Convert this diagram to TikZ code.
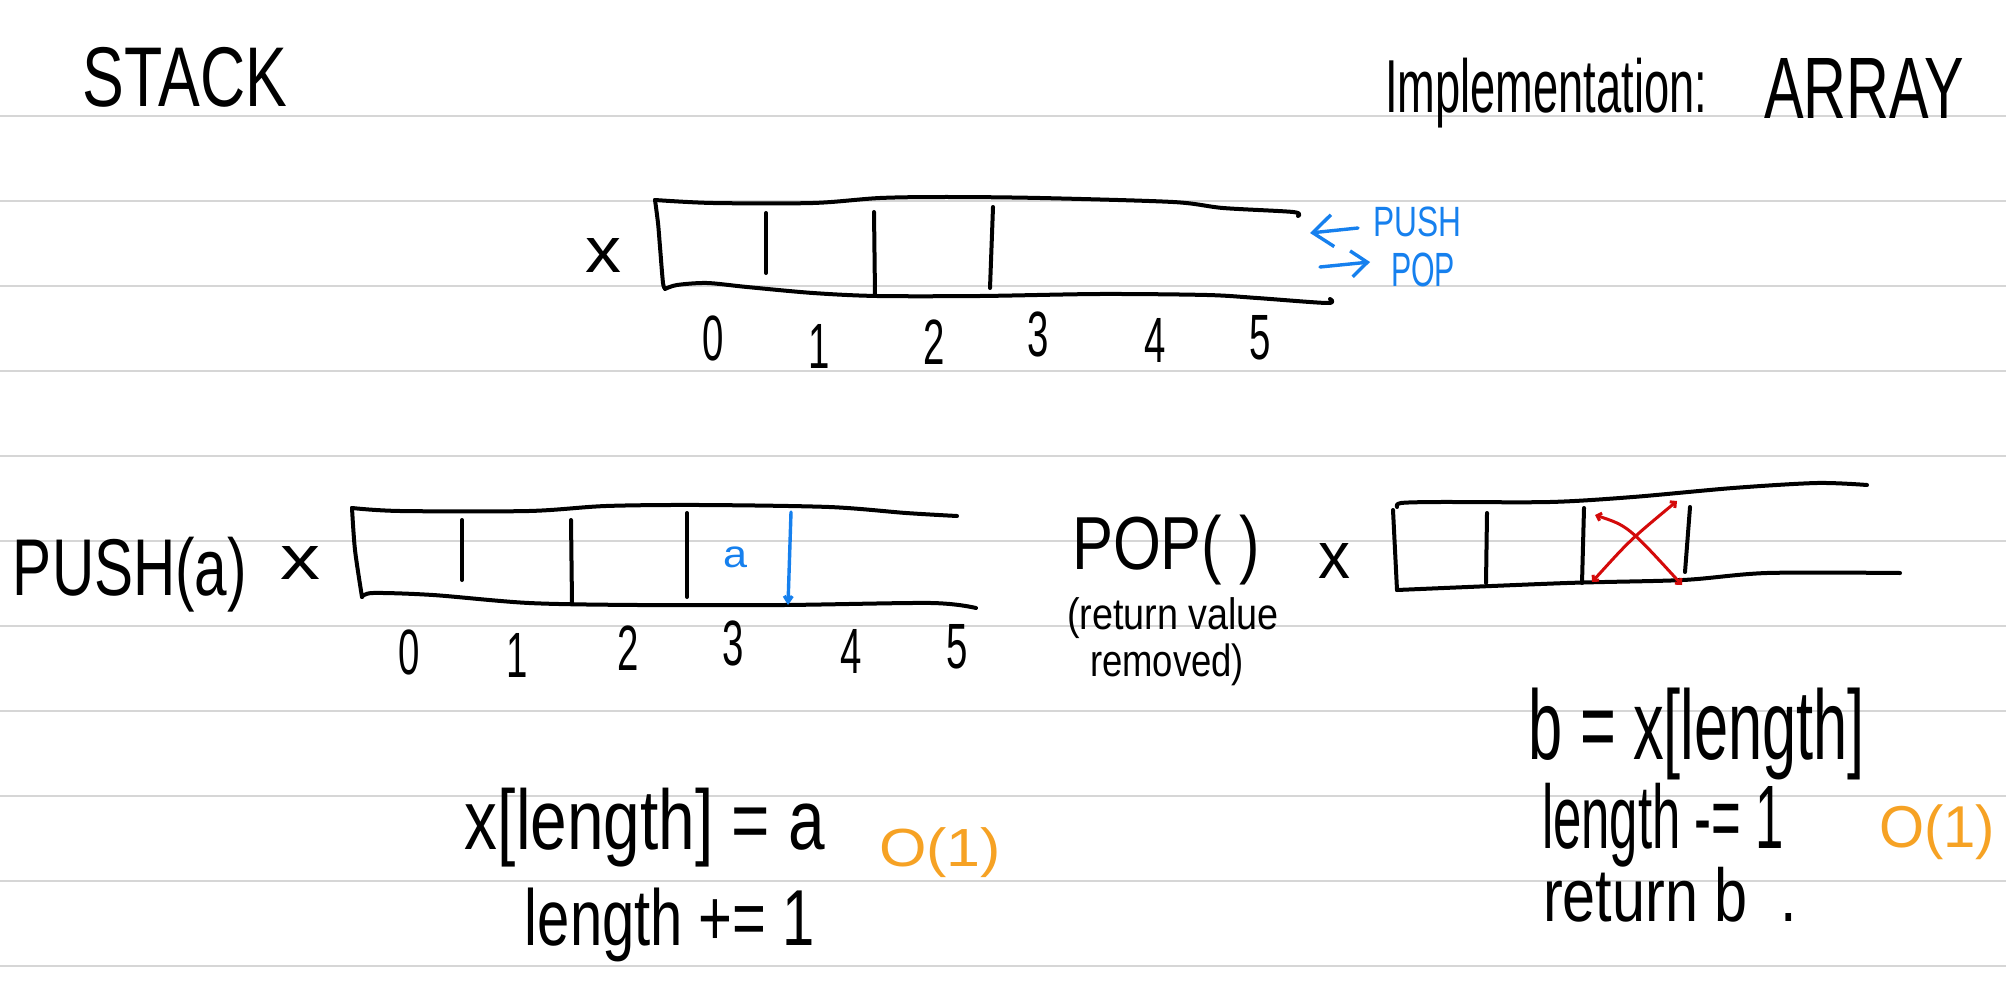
\documentclass[tikz,border=0pt]{standalone}
\usepackage{graphicx}
\usepackage{fontspec}
\setmainfont{Liberation Sans}
\usetikzlibrary{arrows.meta}
\definecolor{rulegray}{RGB}{214,214,214}
\definecolor{penblue}{RGB}{22,128,238}
\definecolor{penred}{RGB}{212,10,10}
\definecolor{penorange}{RGB}{246,162,36}
\newcommand{\hwbox}[3]{\resizebox*{#1}{#2}{#3}}
\newcommand{\hwdig}[1]{\scalebox{0.6}[1]{\fontsize{32}{32}\selectfont #1}}
\tikzset{
  rule/.style={draw=rulegray, line width=1pt},
  pen/.style={line width=2pt, line cap=round, line join=round},
  txt/.style={inner sep=0pt, outer sep=0pt},
  bluepen/.style={pen, draw=penblue, line width=1.7pt},
  redpen/.style={pen, draw=penred, line width=1.5pt},
}
\begin{document}
\begin{tikzpicture}[x=0.5pt,y=-0.5pt]
\useasboundingbox (0,0) rectangle (2006,1000);
\fill[white] (0,0) rectangle (2006,1000);
% ruled lines
\foreach \yy in {116,201,286,371,456,541,626,711,796,881,966}
  \draw[rule] (0,\yy) -- (2006,\yy);

% titles
\node[txt] (title) at (185,77) {\hwbox{102pt}{30pt}{STACK}};
\node[txt] (impl) at (1546,93) {\hwbox{161pt}{35pt}{Implementation:}};
\node[txt] (arr) at (1864,88) {\hwbox{100pt}{30pt}{ARRAY}};

% ---------- top array ----------
\node[txt] (xtop) at (603,255) {\hwbox{18pt}{17pt}{x}};
\draw[pen] plot[smooth] coordinates {(655,200) (713,203) (813,203) (880,198) (947,197) (1040,198) (1173,202) (1223,208) (1293,212) (1298,216)};
\draw[pen] plot[smooth] coordinates {(655,200) (658,223) (660,247) (663,283) (665,288)};
\draw[pen] plot[smooth] coordinates {(665,289) (677,285) (707,283) (747,287) (813,293) (877,296) (980,296) (1100,294) (1207,295) (1257,298) (1327,303) (1330,299)};
\draw[pen] (766,213) -- (766,273);
\draw[pen] (874,212) -- (875,295);
\draw[pen] (993,207) -- (990,288);
\node[txt] (t0) at (713,338) {\hwdig{0}};
\node[txt] (t1) at (819,346) {\hwdig{1}};
\node[txt] (t2) at (934,342) {\hwdig{2}};
\node[txt] (t3) at (1038,334) {\hwdig{3}};
\node[txt] (t4) at (1155,340) {\hwdig{4}};
\node[txt] (t5) at (1260,338) {\hwdig{5}};
% PUSH / POP
\node[txt, text=penblue] (push) at (1417,222) {\hwbox{44pt}{15pt}{PUSH}};
\node[txt, text=penblue] (pop) at (1423,270) {\hwbox{32pt}{17pt}{POP}};
\coordinate (pushA) at (1358,228);
\coordinate (pushB) at (1310,233);
\coordinate (popA) at (1320,267);
\coordinate (popB) at (1370,262);
\draw[bluepen, -{Straight Barb[length=10pt,width=16pt]}] (pushA) -- (pushB);
\draw[bluepen, -{Straight Barb[length=8pt,width=13pt]}] (popA) -- (popB);

% ---------- PUSH(a) ----------
\node[txt] (pushlbl) at (130,575) {\hwbox{117pt}{37.5pt}{PUSH(a)}};
\node[txt] (xpush) at (300,563) {\hwbox{20pt}{16.5pt}{x}};
\draw[pen] plot[smooth] coordinates {(352,508) (400,511) (529,511) (606,506) (700,505) (829,507) (906,513) (957,516)};
\draw[pen] plot[smooth] coordinates {(352,508) (355,550) (362,597)};
\draw[pen] plot[smooth] coordinates {(362,597) (373,593) (433,595) (529,603) (638,605) (784,605) (931,603) (976,608)};
\draw[pen] (462,520) -- (462,580);
\draw[pen] (571,520) -- (572,603);
\draw[pen] (687,513) -- (687,597);
\node[txt, text=penblue] (aval) at (735,557) {\hwbox{12pt}{10.5pt}{a}};
\coordinate (downA) at (791,512);
\coordinate (downB) at (788,605);
\draw[bluepen, -{Straight Barb[length=3pt,width=4pt]}] (downA) -- (downB);
\node[txt] (p0) at (409,652) {\hwdig{0}};
\node[txt] (p1) at (517,655) {\hwdig{1}};
\node[txt] (p2) at (628,648) {\hwdig{2}};
\node[txt] (p3) at (733,643) {\hwdig{3}};
\node[txt] (p4) at (851,651) {\hwdig{4}};
\node[txt] (p5) at (957,647) {\hwdig{5}};

% ---------- POP() ----------
\node[txt] (poplbl) at (1166,550) {\hwbox{94pt}{35pt}{POP( )}};
\node[txt] (ret1) at (1173,618) {\hwbox{106pt}{20.5pt}{(return value}};
\node[txt] (ret2) at (1167,665) {\hwbox{77pt}{21pt}{removed)}};
\node[txt] (xpop) at (1334,561) {\hwbox{16pt}{17.5pt}{x}};
\draw[pen] plot[smooth] coordinates {(1397,507) (1401,503) (1440,502) (1550,502) (1633,497) (1733,488) (1817,483) (1867,485)};
\draw[pen] plot[smooth] coordinates {(1393,510) (1395,550) (1397,590)};
\draw[pen] plot[smooth] coordinates {(1397,590) (1567,583) (1683,580) (1767,573) (1900,573)};
\draw[pen] (1487,513) -- (1486,583);
\draw[pen] (1584,508) -- (1582,583);
\draw[pen] (1690,507) -- (1685,572);
\coordinate (rxA) at (1595,515);
\coordinate (rxB) at (1682,585);
\coordinate (rxC) at (1677,501);
\coordinate (rxD) at (1592,582);
\draw[redpen, {Straight Barb[length=2pt,width=4pt]}-{Straight Barb[length=2pt,width=4pt]}] (rxA) .. controls (1628,526) .. (rxB);
\draw[redpen, {Straight Barb[length=2pt,width=4pt]}-{Straight Barb[length=2pt,width=4pt]}] (rxC) .. controls (1630,540) .. (rxD);

% ---------- code ----------
\node[txt] (c1) at (645,828) {\hwbox{180pt}{39.5pt}{x[length] = a}};
\node[txt] (c2) at (670,925) {\hwbox{145pt}{37pt}{length += 1}};
\node[txt, text=penorange] (o1) at (940,853) {\hwbox{61pt}{25pt}{O(1)}};
\node[txt] (d1) at (1697,734) {\hwbox{168pt}{46pt}{b = x[length]}};
\node[txt] (d2) at (1663,825) {\hwbox{121pt}{42pt}{length -= 1}};
\node[txt] (d3) at (1670,895) {\hwbox{127pt}{27.5pt}{return b\ \ .}};
\node[txt, text=penorange] (o2) at (1937,832) {\hwbox{58pt}{27.5pt}{O(1)}};
\end{tikzpicture}
\end{document}
